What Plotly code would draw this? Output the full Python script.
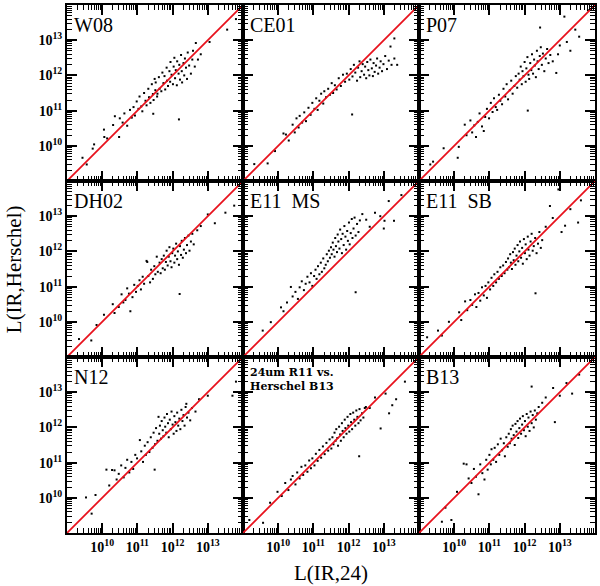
import numpy as np
import plotly.graph_objects as go
from plotly.subplots import make_subplots

# ---- data (log10 L) ----
panel_names = ["W08", "CE01", "P07", "DH02", "E11\u00a0\u00a0MS", "E11\u00a0\u00a0SB", "N12", "", "B13"]

w08_x = [9.44,9.56,9.73,9.77,10.05,10.06,10.14,10.31,10.36,10.48,10.50,10.58,10.63,10.71,10.79,
         10.84,10.89,10.93,10.98,11.03,11.06,11.11,11.14,11.19,11.23,11.26,11.31,11.33,11.37,11.41,11.44,11.46,11.49,11.51,11.56,
         11.52,11.57,11.61,11.63,11.68,11.71,11.74,11.77,11.79,11.83,11.84,11.87,11.91,11.93,11.94,11.97,12.01,12.03,12.05,12.07,
         12.09,12.12,12.13,12.17,12.19,12.21,12.24,12.26,12.27,12.31,12.33,12.35,12.38,12.41,12.43,12.47,12.52,12.56,12.58,12.63,
         12.66,12.72,12.80,13.05,13.55,13.80,12.18,11.45]
w08_y = [9.66,9.47,9.92,10.04,10.46,10.25,10.21,10.59,10.84,10.25,10.78,10.66,10.92,10.57,11.02,
         10.80,11.10,10.86,11.26,11.05,11.40,11.12,10.98,11.50,11.28,11.15,11.62,11.38,11.22,11.75,11.47,11.30,11.90,11.58,11.40,
         11.80,11.48,11.95,11.62,11.55,12.08,11.78,11.98,11.60,12.22,11.85,11.70,12.12,11.82,12.38,12.02,11.75,12.25,12.50,11.92,
         12.15,11.72,12.40,12.05,12.30,11.88,12.58,12.12,11.80,12.35,12.00,12.48,12.22,11.90,12.65,12.28,12.05,12.45,12.70,12.25,
         12.92,12.45,12.60,12.95,13.30,13.60,10.75,10.91]

ce01_x = [9.32,9.70,9.91,10.15,10.22,10.30,10.41,10.47,10.52,10.58,10.61,10.68,10.74,10.79,10.86,
          10.92,10.97,11.03,11.08,11.12,11.17,11.22,11.28,11.31,11.36,11.42,11.47,11.52,11.56,11.61,11.66,11.72,11.78,11.84,11.90,
          11.95,12.02,12.06,12.11,12.15,12.19,12.24,12.27,12.31,12.33,12.37,12.40,12.44,12.47,12.50,12.53,12.56,12.59,12.62,12.66,
          12.69,12.71,12.74,12.78,12.81,12.84,12.88,12.91,12.95,12.99,13.04,13.09,13.14,13.22,13.30,
          13.19,13.30,13.38,12.10]
ce01_y = [9.48,9.50,9.85,10.35,10.32,10.15,10.60,10.38,10.78,10.52,10.85,10.66,10.95,10.70,11.08,
          10.88,11.22,11.05,11.35,11.02,11.28,11.48,11.20,11.55,11.38,11.62,11.45,11.78,11.50,11.72,11.60,11.92,11.70,12.02,11.82,
          12.05,11.88,12.18,11.97,12.30,12.08,11.85,12.22,12.40,11.95,12.12,12.32,12.02,12.25,11.92,12.38,12.15,12.00,12.45,12.20,
          11.98,12.35,12.10,12.28,12.48,12.05,12.22,12.40,12.12,12.32,12.55,12.18,12.42,12.30,12.48,
          12.82,13.05,12.30,10.89]

p07_x = [9.32,9.40,9.70,10.10,10.13,10.30,10.35,10.46,10.51,10.57,10.62,10.67,10.72,10.79,10.84,
         10.88,10.93,10.99,11.04,11.09,11.13,11.18,11.22,11.27,11.31,11.36,11.40,11.45,11.49,11.53,11.58,11.62,11.66,11.71,11.75,
         11.79,11.83,11.86,11.89,11.92,11.94,11.97,12.00,12.03,12.05,12.08,12.11,12.13,12.16,12.19,12.21,12.24,12.27,12.29,12.32,
         12.35,12.37,12.40,12.43,12.46,12.49,12.52,12.56,12.60,12.64,12.68,12.73,12.80,
         12.44,12.90,12.95,13.00,13.13,13.20,13.44,13.55,13.80,13.30,12.09]
p07_y = [9.47,9.55,9.93,9.66,9.97,10.60,10.30,10.72,10.38,10.58,10.25,10.68,10.92,10.55,10.42,
         10.82,11.05,10.78,11.22,10.96,11.35,11.10,11.02,11.45,11.28,11.18,11.62,11.40,11.75,11.32,11.58,11.85,11.48,11.70,11.98,
         11.65,12.05,11.88,12.25,11.75,12.12,11.98,12.38,11.82,12.20,12.52,12.02,11.90,12.35,12.15,12.60,12.05,12.45,12.28,11.95,
         12.70,12.40,12.18,12.55,12.80,12.30,12.62,12.12,12.48,12.75,12.35,12.58,12.40,
         13.36,12.07,12.60,12.85,13.67,12.95,13.30,13.10,13.85,12.70,11.00]

dh02_x = [9.34,9.69,9.84,10.05,10.30,10.35,10.47,10.55,10.60,10.66,10.71,10.76,10.80,10.86,10.91,
          10.96,11.01,11.06,11.10,11.15,11.19,11.26,11.28,11.31,11.36,11.39,11.44,11.48,11.51,11.55,11.58,11.63,11.66,11.69,11.72,
          11.75,11.78,11.81,11.83,11.86,11.89,11.91,11.94,11.97,11.99,12.02,12.05,12.07,12.10,12.13,12.15,12.18,12.21,12.24,12.26,
          12.29,12.32,12.35,12.38,12.41,12.45,12.48,12.52,12.56,12.60,
          12.70,12.80,13.00,13.20,13.50,13.75,12.20]
dh02_y = [9.51,9.47,9.91,10.20,10.50,10.25,10.42,10.78,10.55,10.62,10.95,10.80,10.30,10.70,11.05,
          10.85,11.02,11.18,10.92,11.28,11.08,11.73,11.70,11.30,11.12,11.48,11.22,11.58,11.35,11.85,11.42,11.68,11.38,11.78,11.52,
          11.88,11.48,11.70,12.02,11.60,11.85,12.12,11.72,11.55,11.95,12.08,11.68,11.88,12.22,11.78,12.00,11.62,12.15,11.90,12.30,
          11.82,12.05,12.38,11.95,12.18,12.45,12.02,12.28,12.50,12.20,
          12.60,12.72,13.05,12.80,13.10,13.30,10.79]

e11ms_x = [9.56,9.79,10.08,10.15,10.25,10.36,10.41,10.49,10.56,10.61,10.67,10.73,10.78,10.83,10.89,
           10.93,10.97,11.02,11.06,11.09,11.13,11.17,11.21,11.24,11.28,11.31,11.35,11.38,11.41,11.44,11.47,11.50,
           11.52,11.55,11.57,11.60,11.62,11.64,11.67,11.69,11.71,11.74,11.76,11.79,11.81,11.83,11.86,11.88,11.91,11.93,11.96,11.98,
           12.01,12.03,12.06,12.09,12.11,12.14,12.17,12.20,12.24,12.28,12.32,
           12.39,12.50,12.60,12.75,12.90,13.00,13.02,13.14,13.29,13.50,12.20]
e11ms_y = [9.75,9.99,10.41,10.30,10.55,10.99,10.72,10.85,10.65,10.98,11.15,10.90,11.08,11.28,11.12,
           11.38,11.02,11.30,11.48,11.22,11.58,11.35,11.68,11.42,11.80,11.52,11.62,11.92,11.72,12.02,11.82,12.12,
           11.92,12.25,12.05,11.85,12.38,12.15,11.98,12.48,12.28,12.08,12.62,12.35,11.95,12.50,12.18,12.72,12.42,12.05,12.58,12.30,
           12.82,12.20,12.52,12.92,12.38,12.65,12.96,12.45,12.78,12.55,12.88,
           13.06,12.90,12.70,13.10,13.00,12.65,12.87,13.43,12.87,13.60,10.84]

e11sb_x = [9.23,9.54,9.65,9.85,10.14,10.20,10.31,10.37,10.46,10.51,10.59,10.63,10.69,10.74,10.79,10.84,10.89,10.93,
           10.97,11.02,11.06,11.11,11.14,11.19,11.23,11.27,11.31,11.35,11.39,11.43,11.47,11.51,
           11.53,11.56,11.59,11.61,11.64,11.67,11.69,11.72,11.74,11.77,11.80,11.82,11.85,11.87,11.90,11.93,11.95,11.98,12.01,12.03,
           12.06,12.09,12.11,12.14,12.17,12.20,12.23,12.26,12.30,12.34,12.38,12.42,12.46,12.50,
           12.60,12.72,12.80,12.96,13.05,13.15,13.30,13.52,13.60,12.31]
e11sb_y = [9.56,9.75,9.61,10.00,10.27,10.05,10.58,10.33,10.62,10.48,10.78,10.42,10.82,10.60,10.98,10.75,11.02,10.68,
           11.12,10.92,11.25,11.02,11.35,11.12,11.42,11.22,11.55,11.30,11.60,11.38,11.70,11.48,
           11.80,11.55,11.92,11.68,11.50,11.98,11.75,12.08,11.62,11.88,12.18,11.72,12.00,12.28,11.82,12.10,11.65,12.35,11.95,12.20,
           11.78,12.42,12.05,11.88,12.28,12.50,12.02,12.15,12.38,11.95,12.22,12.55,12.10,12.32,
           12.70,13.29,12.95,13.76,12.55,12.73,13.20,12.82,13.45,10.81]

n12_x = [9.54,9.81,9.70,10.12,10.20,10.28,10.35,10.41,10.47,10.54,10.61,10.66,10.71,10.77,10.83,10.88,10.94,
         10.99,11.07,11.11,11.16,11.21,11.24,11.29,11.34,11.38,11.43,11.46,11.50,11.53,11.57,11.60,
         11.62,11.64,11.67,11.69,11.72,11.74,11.77,11.79,11.82,11.84,11.87,11.89,11.92,11.95,11.97,12.00,12.03,12.05,12.08,12.11,
         12.13,12.16,12.19,12.22,12.25,12.28,12.31,12.34,12.37,12.41,12.45,12.50,12.55,
         12.39,12.65,12.75,13.00,13.80,13.70,11.49]
n12_y = [10.01,10.08,9.55,10.80,10.35,10.79,10.78,10.52,10.68,10.92,10.58,10.85,11.08,10.72,11.02,10.82,11.22,
         11.12,11.64,11.32,11.02,11.48,11.22,11.58,11.30,11.72,11.42,11.85,11.52,11.98,11.62,12.30,
         11.82,12.05,11.68,12.18,11.92,11.75,12.28,12.02,11.85,12.38,12.12,11.72,12.22,11.95,12.45,12.08,11.82,12.32,12.15,11.90,
         12.42,12.05,12.25,11.95,12.50,12.18,12.35,12.05,12.58,12.28,12.42,12.20,12.55,
         12.67,12.45,12.80,12.90,13.30,12.90,10.80]

r11_x = [9.18,9.57,9.77,9.98,10.10,10.20,10.29,10.36,10.41,10.49,10.54,10.61,10.66,10.71,10.77,10.83,10.88,10.93,
         10.97,11.03,11.07,11.12,11.17,11.22,11.27,11.32,11.37,11.42,11.46,11.51,
         11.54,11.57,11.60,11.63,11.65,11.68,11.70,11.73,11.76,11.78,11.81,11.83,11.86,11.89,11.91,11.94,11.97,11.99,12.02,12.05,
         12.07,12.10,12.13,12.16,12.19,12.22,12.25,12.28,12.31,12.34,12.38,12.42,12.46,12.49,
         12.60,12.75,12.91,13.05,13.15,13.24,13.35,13.60,12.30]
r11_y = [9.37,9.29,9.86,10.17,10.05,10.42,10.22,10.52,10.62,10.38,10.72,10.55,10.88,10.65,10.92,10.74,11.06,10.84,
         11.12,10.92,11.25,11.05,11.36,11.14,11.46,11.24,11.56,11.34,11.66,11.40,
         11.72,11.52,11.85,11.62,11.95,11.70,11.48,12.02,11.80,11.62,12.12,11.90,11.72,12.22,11.98,11.82,12.30,12.05,11.88,12.38,
         12.15,11.95,12.42,12.22,12.05,12.48,12.30,12.12,12.52,12.20,12.40,12.28,12.55,12.58,
         12.55,12.85,11.97,12.96,12.40,12.63,12.80,13.30,11.18]

b13_x = [9.65,9.92,9.75,10.08,10.27,10.35,10.41,10.49,10.56,10.62,10.69,10.74,10.80,10.86,10.91,10.95,
         11.00,11.04,11.06,11.11,11.15,11.19,11.24,11.28,11.32,11.36,11.41,11.44,11.48,11.52,
         11.55,11.58,11.61,11.63,11.66,11.69,11.72,11.74,11.77,11.80,11.82,11.85,11.87,11.90,11.93,11.95,11.98,12.01,12.03,12.06,
         12.09,12.11,12.14,12.17,12.20,12.23,12.26,12.29,12.32,12.36,12.40,
         12.20,12.50,12.60,12.81,12.86,13.00,13.19,13.35,13.55]
b13_y = [9.32,9.37,9.72,10.17,10.97,10.95,10.55,10.42,10.82,10.60,10.10,10.95,10.70,10.52,11.08,10.80,
         11.22,10.95,11.38,11.08,11.42,11.02,11.52,11.22,11.68,11.35,11.55,11.18,11.72,11.45,
         11.82,11.55,11.95,11.68,12.05,11.78,11.50,12.10,11.88,12.18,11.70,11.98,12.25,11.82,12.08,12.32,11.92,12.18,11.75,12.38,
         12.02,12.28,11.90,12.45,12.12,12.35,12.00,12.48,12.22,12.40,12.58,
         13.16,12.70,12.85,13.12,12.15,12.90,13.26,12.96,13.50]

panel_x = [w08_x, ce01_x, p07_x, dh02_x, e11ms_x, e11sb_x, n12_x, r11_x, b13_x]
panel_y = [w08_y, ce01_y, p07_y, dh02_y, e11ms_y, e11sb_y, n12_y, r11_y, b13_y]
for px, py in zip(panel_x, panel_y):
    assert len(px) == len(py), (len(px), len(py))

axis_range_log = [9, 14]
one_to_one = [1e9, 1e14]
major_ticks = [1e10, 1e11, 1e12, 1e13]
major_text = ["<b>10<sup>10</sup></b>", "<b>10<sup>11</sup></b>", "<b>10<sup>12</sup></b>", "<b>10<sup>13</sup></b>"]
minor_ticks = [m * 10.0 ** e for e in range(9, 14) for m in range(2, 10)]

SERIF = "Liberation Serif"

fig = make_subplots(rows=3, cols=3, horizontal_spacing=0, vertical_spacing=0)

for i in range(9):
    r, c = i // 3 + 1, i % 3 + 1
    xs = np.power(10.0, panel_x[i])
    ys = np.power(10.0, panel_y[i])
    fig.add_trace(go.Scatter(x=xs, y=ys, mode="markers",
                             marker=dict(symbol="square", size=2, color="black", line=dict(width=0)),
                             showlegend=False, hoverinfo="skip"), row=r, col=c)
    fig.add_trace(go.Scatter(x=one_to_one, y=one_to_one, mode="lines",
                             line=dict(color="#e8111c", width=1.8),
                             showlegend=False, hoverinfo="skip"), row=r, col=c)
    common = dict(type="log", range=axis_range_log, showgrid=False, zeroline=False,
                  showline=True, linecolor="black", linewidth=2, mirror="allticks",
                  ticks="inside", ticklen=10, tickwidth=1.6, tickcolor="black",
                  tickmode="array", tickvals=major_ticks, ticktext=major_text,
                  tickfont=dict(family=SERIF, size=14, color="black"),
                  minor=dict(ticks="inside", ticklen=5, tickwidth=1.2, tickcolor="black",
                             tickmode="array", tickvals=minor_ticks, showgrid=False))
    fig.update_xaxes(showticklabels=(r == 3), **common, row=r, col=c)
    fig.update_yaxes(showticklabels=(c == 1), **common, row=r, col=c)

    xref = "x domain" if i == 0 else f"x{i+1} domain"
    yref = "y domain" if i == 0 else f"y{i+1} domain"
    if panel_names[i]:
        fig.add_annotation(x=0, y=1, xref=xref, yref=yref, xanchor="left", yanchor="top",
                           xshift=5, yshift=-7, showarrow=False, text=panel_names[i],
                           font=dict(family=SERIF, size=20, color="black"))
    else:
        for k, line in enumerate(["24um R11 vs.", "Herschel B13"]):
            fig.add_annotation(x=0, y=1, xref=xref, yref=yref, xanchor="left", yanchor="top",
                               xshift=5, yshift=-7 - 14 * k, showarrow=False, text=f"<b>{line}</b>",
                               font=dict(family="DejaVu Serif", size=11, color="black"))

fig.add_annotation(x=0.5, y=-0.075, xref="paper", yref="paper", showarrow=False,
                   xanchor="center", yanchor="middle",
                   text="L(IR,24)", font=dict(family=SERIF, size=21, color="black"))
fig.add_annotation(x=-0.1, y=0.5, xref="paper", yref="paper", showarrow=False, textangle=-90,
                   xanchor="center", yanchor="middle",
                   text="L(IR,Herschel)", font=dict(family=SERIF, size=21, color="black"))

fig.update_layout(width=600, height=586, margin=dict(l=67, r=3, t=4, b=53),
                  paper_bgcolor="white", plot_bgcolor="white")

fig.write_html("out.html", config={"displayModeBar": False},
               post_script="document.body.style.margin='0';document.body.style.padding='0';")
